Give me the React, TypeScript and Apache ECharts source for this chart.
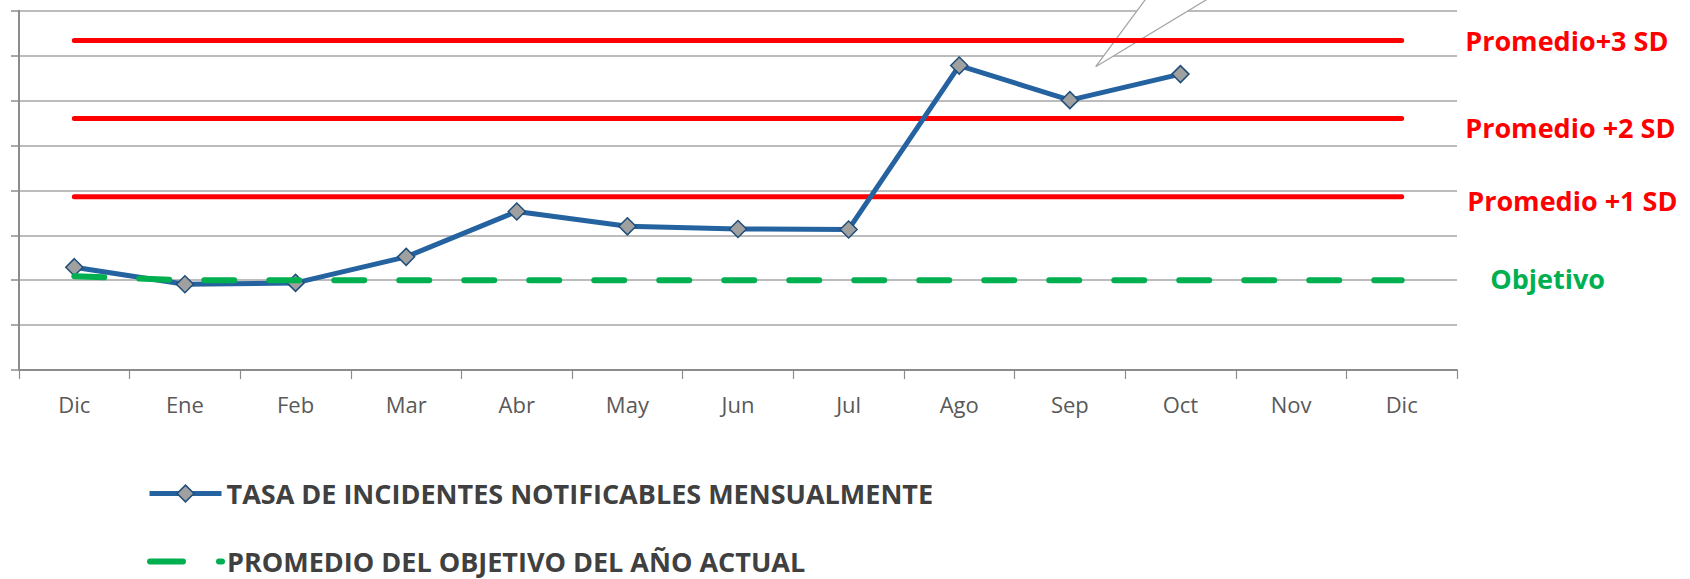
import React, { useEffect, useRef } from "react";
import * as echarts from "echarts";

const categories = ["Dic", "Ene", "Feb", "Mar", "Abr", "May", "Jun", "Jul", "Ago", "Sep", "Oct", "Nov", "Dic"];
const tasa = [2.29, 1.91, 1.94, 2.52, 3.53, 3.2, 3.14, 3.13, 6.78, 6.01, 6.59, null, null];
const objetivo = [2.09, 2.0, 2.0, 2.0, 2.0, 2.0, 2.0, 2.0, 2.0, 2.0, 2.0, 2.0, 2.0];
const sd1 = [3.86, 3.86, 3.86, 3.86, 3.86, 3.86, 3.86, 3.86, 3.86, 3.86, 3.86, 3.86, 3.86];
const sd2 = [5.6, 5.6, 5.6, 5.6, 5.6, 5.6, 5.6, 5.6, 5.6, 5.6, 5.6, 5.6, 5.6];
const sd3 = [7.34, 7.34, 7.34, 7.34, 7.34, 7.34, 7.34, 7.34, 7.34, 7.34, 7.34, 7.34, 7.34];

const NAME_TASA = "TASA DE INCIDENTES NOTIFICABLES MENSUALMENTE";
const NAME_OBJ = "PROMEDIO DEL OBJETIVO DEL AÑO ACTUAL";

const FONT = "'Open Sans', 'Noto Sans', sans-serif";

function withEndLabel(values: number[], text: string, color: string, distance: number, dy: number) {
  return values.map((v, i) =>
    i === values.length - 1
      ? {
          value: v,
          symbol: "circle",
          symbolSize: 1,
          label: {
            show: true,
            position: "right",
            distance,
            offset: [0, dy],
            formatter: text,
            color,
            fontFamily: FONT,
            fontWeight: "bold",
            fontSize: 27,
          },
        }
      : v
  );
}

export default function App() {
  const ref = useRef<HTMLDivElement>(null);

  useEffect(() => {
    if (!ref.current) return;
    const chart = echarts.init(ref.current, null, { renderer: "svg" });
    const redLine = (name: string, values: any[]) => ({
      name,
      type: "line",
      data: values,
      symbol: "none",
      showSymbol: true,
      showAllSymbol: true,
      z: 2,
      lineStyle: { color: "#ff0000", width: 5, cap: "round" },
      itemStyle: { color: "#ff0000" },
    });
    chart.setOption({
      animation: false,
      backgroundColor: "#ffffff",
      grid: { left: 19, right: 233, top: 10.8, bottom: 209, containLabel: false },
      xAxis: {
        type: "category",
        data: categories,
        boundaryGap: true,
        axisLine: { show: true, lineStyle: { color: "#8c8c8c", width: 2 } },
        axisTick: { show: true, length: 9, lineStyle: { color: "#8c8c8c", width: 1.2 } },
        axisLabel: { color: "#595959", fontFamily: FONT, fontSize: 22, margin: 23 },
        splitLine: { show: false },
      },
      yAxis: {
        type: "value",
        min: 0,
        max: 8,
        interval: 1,
        axisLine: { show: true, lineStyle: { color: "#8c8c8c", width: 2 } },
        axisTick: { show: true, length: 8, lineStyle: { color: "#8c8c8c", width: 1.5 } },
        axisLabel: { show: false },
        splitLine: { show: true, lineStyle: { color: "#a6a6a6", width: 1.5 } },
      },
      legend: [
        {
          data: [NAME_TASA],
          left: 147,
          top: 480,
          padding: 0,
          itemWidth: 72,
          itemHeight: 21,
          textStyle: { color: "#404040", fontFamily: FONT, fontWeight: "bold", fontSize: 27, lineHeight: 26 },
          lineStyle: { width: 5 },
          itemStyle: { borderWidth: 1.5 },
          selectedMode: false,
        },
        {
          data: [NAME_OBJ],
          left: 147,
          top: 548,
          padding: 0,
          itemWidth: 72,
          itemHeight: 21,
          textStyle: { color: "#404040", fontFamily: FONT, fontWeight: "bold", fontSize: 27, lineHeight: 26 },
          lineStyle: { width: 6, type: [33, 36] },
          itemStyle: { opacity: 0 },
          selectedMode: false,
        },
      ],
      graphic: [
        {
          type: "polygon",
          z: 1,
          silent: true,
          shape: { points: [[1095.7, 66.7], [1159.8, -20], [1239, -20]] },
          style: { fill: "#ffffff", stroke: "#a6a6a6", lineWidth: 1.3 },
        },
      ],
      series: [
        redLine("Promedio+3 SD", withEndLabel(sd3, "Promedio+3 SD", "#ff0000", 63, 0)),
        redLine("Promedio +2 SD", withEndLabel(sd2, "Promedio +2 SD", "#ff0000", 63, 8.5)),
        redLine("Promedio +1 SD", withEndLabel(sd1, "Promedio +1 SD", "#ff0000", 65, 3.5)),
        {
          name: NAME_TASA,
          type: "line",
          data: tasa,
          z: 3,
          symbol: "diamond",
          symbolSize: 17,
          showAllSymbol: true,
          lineStyle: { color: "#2462a0", width: 5 },
          itemStyle: { color: "#a0a0a0", borderColor: "#1f4e79", borderWidth: 1.5 },
        },
        {
          name: NAME_OBJ,
          type: "line",
          data: withEndLabel(objetivo, "Objetivo", "#00b050", 88, -2),
          z: 4,
          symbol: "none",
          showSymbol: true,
          showAllSymbol: true,
          lineStyle: { color: "#00b050", width: 6, type: [30, 35], cap: "round" },
          itemStyle: { color: "#00b050" },
        },
      ],
    });
    return () => chart.dispose();
  }, []);

  return (
    <div
      ref={ref}
      style={{ position: "absolute", left: 0, top: 0, width: 1690, height: 579 }}
    />
  );
}
